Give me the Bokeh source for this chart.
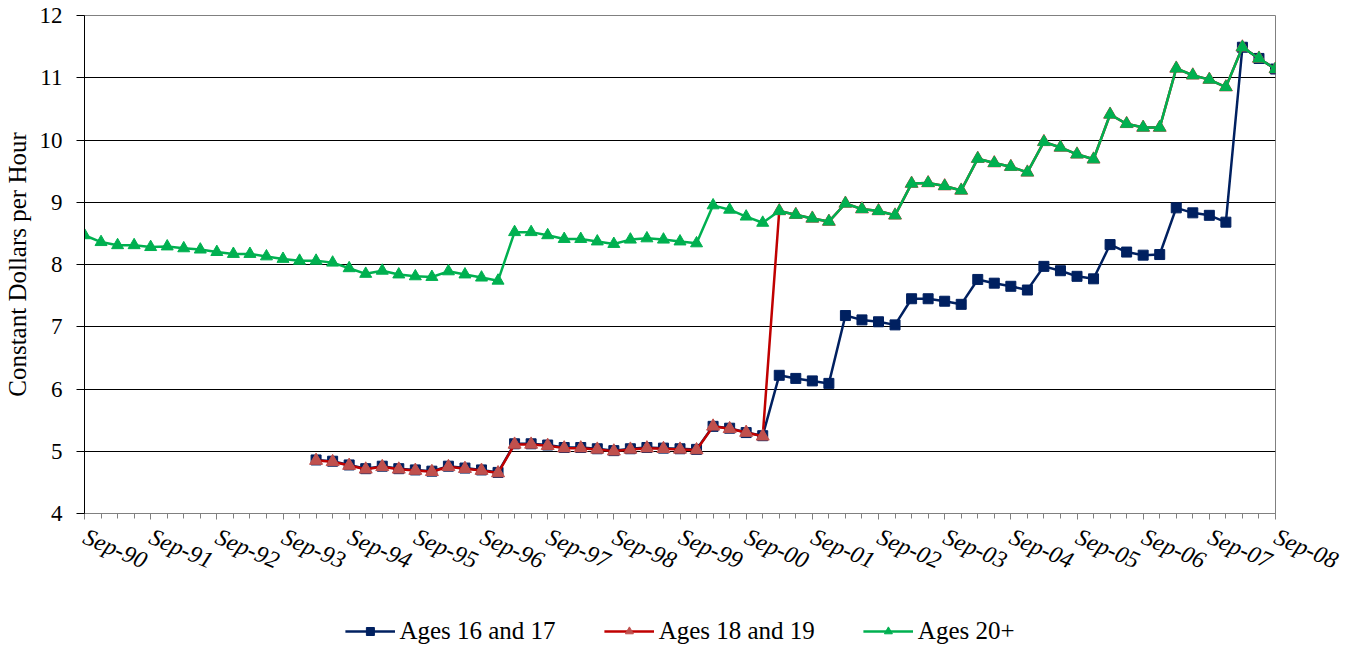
import numpy as np
from bokeh.plotting import figure
from bokeh.layouts import column
from bokeh.models import FixedTicker, Legend, LegendItem, Range1d
from bokeh.embed import file_html
from bokeh.resources import INLINE

# ---- data ----
year_labels = ["Sep-90", "Sep-91", "Sep-92", "Sep-93", "Sep-94", "Sep-95", "Sep-96",
               "Sep-97", "Sep-98", "Sep-99", "Sep-00", "Sep-01", "Sep-02", "Sep-03",
               "Sep-04", "Sep-05", "Sep-06", "Sep-07", "Sep-08"]

ages_20_plus = [8.47, 8.36, 8.31, 8.31, 8.28, 8.29, 8.26, 8.24, 8.20, 8.17, 8.17, 8.13,
                8.09, 8.06, 8.06, 8.03, 7.94, 7.85, 7.90, 7.84, 7.81, 7.80, 7.89, 7.84,
                7.79, 7.74, 8.52, 8.52, 8.47, 8.41, 8.41, 8.37, 8.33, 8.40, 8.42, 8.40,
                8.37, 8.34, 8.95, 8.88, 8.77, 8.67, 8.86, 8.80, 8.74, 8.69, 8.98, 8.89,
                8.86, 8.79, 9.30, 9.31, 9.26, 9.19, 9.70, 9.63, 9.57, 9.48, 9.97, 9.88,
                9.77, 9.69, 10.41, 10.26, 10.20, 10.20, 11.15, 11.04, 10.97, 10.85,
                11.49, 11.31, 11.14]

# teen series begin in the 15th quarter (Mar-94)
teen_start = 14
ages_18_19 = [4.85, 4.83, 4.77, 4.71, 4.75, 4.71, 4.69, 4.67, 4.75, 4.72, 4.69, 4.65,
              5.11, 5.11, 5.09, 5.05, 5.05, 5.03, 5.00, 5.03, 5.05, 5.04, 5.03, 5.02,
              5.40, 5.36, 5.30, 5.24, 8.86, 8.80, 8.74, 8.69, 8.98, 8.89, 8.86, 8.79,
              9.30, 9.31, 9.26, 9.19, 9.70, 9.63, 9.57, 9.48, 9.97, 9.88, 9.77, 9.69,
              10.41, 10.26, 10.20, 10.20, 11.15, 11.04, 10.97, 10.85, 11.49, 11.31, 11.14]
ages_16_17 = [4.86, 4.84, 4.78, 4.72, 4.76, 4.72, 4.70, 4.68, 4.76, 4.73, 4.70, 4.66,
              5.12, 5.12, 5.10, 5.06, 5.06, 5.04, 5.01, 5.04, 5.06, 5.05, 5.04, 5.03,
              5.40, 5.37, 5.30, 5.25, 6.22, 6.17, 6.13, 6.09, 7.18, 7.11, 7.08, 7.03,
              7.45, 7.45, 7.41, 7.36, 7.76, 7.70, 7.65, 7.59, 7.97, 7.90, 7.81, 7.77,
              8.32, 8.20, 8.15, 8.16, 8.91, 8.83, 8.79, 8.68, 11.49, 11.31, 11.14]

series_names = ["Ages 16 and 17", "Ages 18 and 19", "Ages 20+"]
y_ticks = [4, 5, 6, 7, 8, 9, 10, 11, 12]

# ---- positions (quarter index) ----
x_all = np.arange(len(ages_20_plus))
x_teen = np.arange(teen_start, teen_start + len(ages_18_19))
major_x = list(range(0, len(ages_20_plus), 4))

SERIF = "Liberation Serif"

blue = "#002060"
r_line = "#C00000"
r_mark = "#C0504D"
green = "#00B050"

styles = [
    dict(lc=blue, marker="square", size=10, mc=blue),
    dict(lc=r_line, marker="triangle", size=13, mc=r_mark),
    dict(lc=green, marker="triangle", size=12, mc=green),
]

p = figure(width=1346, height=610, output_backend="svg",
           toolbar_location=None, x_range=Range1d(0, 72), y_range=Range1d(4, 12),
           min_border_left=77, min_border_right=71, min_border_top=15,
           min_border_bottom=97)

p.background_fill_color = "white"
p.border_fill_color = "white"
p.outline_line_color = "#808080"
p.outline_line_width = 1

for xs, ys, st in zip([x_teen, x_teen, x_all], [ages_16_17, ages_18_19, ages_20_plus], styles):
    p.line(xs, ys, line_color=st["lc"], line_width=2.5)
    p.scatter(xs, ys, marker=st["marker"], size=st["size"],
              fill_color=st["mc"], line_color=st["mc"])

# axes
p.xaxis.ticker = FixedTicker(ticks=major_x, minor_ticks=list(x_all))
p.xaxis.major_label_overrides = {t: lab for t, lab in zip(major_x, year_labels)}
p.xaxis.major_label_orientation = -0.40
p.xaxis.major_label_text_font = SERIF
p.xaxis.major_label_text_font_style = "italic"
p.xaxis.major_label_text_font_size = "24px"
p.xaxis.major_label_text_color = "black"
p.xaxis.axis_line_color = "#808080"
p.xaxis.major_tick_line_color = "#808080"
p.xaxis.minor_tick_line_color = "#808080"
p.xaxis.major_tick_out = 6
p.xaxis.major_tick_in = 0
p.xaxis.minor_tick_out = 5
p.xaxis.minor_tick_in = 0
p.xaxis.major_label_standoff = 16

p.yaxis.ticker = FixedTicker(ticks=y_ticks)
p.yaxis.minor_tick_line_color = None
p.yaxis.major_tick_out = 8
p.yaxis.major_tick_in = 0
p.yaxis.axis_line_color = "black"
p.yaxis.major_tick_line_color = "black"
p.yaxis.major_label_text_font = SERIF
p.yaxis.major_label_text_font_size = "23px"
p.yaxis.major_label_text_color = "black"
p.yaxis.major_label_standoff = 14
p.yaxis.axis_label = "Constant Dollars per Hour"
p.yaxis.axis_label_text_font = SERIF
p.yaxis.axis_label_text_font_style = "normal"
p.yaxis.axis_label_text_font_size = "25px"
p.yaxis.axis_label_text_color = "black"
p.yaxis.axis_label_standoff = 6

p.xgrid.grid_line_color = None
p.ygrid.grid_line_color = "black"
p.ygrid.grid_line_width = 1

# ---- legend strip below the chart ----
lg = figure(width=1346, height=42, output_backend="svg", toolbar_location=None,
            x_range=Range1d(0, 1), y_range=Range1d(0, 1),
            min_border=0, x_axis_type=None, y_axis_type=None)
lg.outline_line_color = None
lg.grid.visible = False
lg.border_fill_color = "white"
items = []
for name, st in zip(series_names, styles):
    # renderers sit outside the visible ranges: only their legend glyphs show
    r1 = lg.line([5, 6], [5, 6], line_color=st["lc"], line_width=2.5)
    r2 = lg.scatter([5, 6], [5, 6], marker=st["marker"], size=st["size"],
                    fill_color=st["mc"], line_color=st["mc"])
    items.append(LegendItem(label=name, renderers=[r1, r2]))
legend = Legend(items=items, orientation="horizontal", location="center")
legend.label_text_font = SERIF
legend.label_text_font_size = "25px"
legend.label_text_color = "black"
legend.glyph_width = 50
legend.glyph_height = 20
legend.label_standoff = 5
legend.spacing = 48
legend.border_line_color = None
legend.background_fill_alpha = 0
legend.margin = 0
legend.padding = 2
lg.add_layout(legend, "center")

layout = column(p, lg, spacing=0)
open("out.html", "w").write(file_html(layout, INLINE))
